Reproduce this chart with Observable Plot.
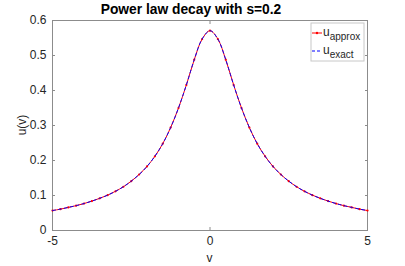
<!DOCTYPE html>
<html><head><meta charset="utf-8">
<script src="https://cdn.jsdelivr.net/npm/d3@7"></script>
<script src="https://cdn.jsdelivr.net/npm/@observablehq/plot@0.6"></script>
<style>body{margin:0;background:#fff} svg{font-family:"Liberation Sans",Arial,sans-serif}</style>
</head><body><div id="chart"></div>
<script>
const title = "Power law decay with s=0.2";
const xLabel = "v";
const yLabel = "u(v)";
const seriesNames = ["approx", "exact"];
const v = [-5,-4.75,-4.5,-4.25,-4,-3.75,-3.5,-3.25,-3,-2.75,-2.5,-2.25,-2,-1.75,-1.5,-1.25,-1,-0.75,-0.5,-0.25,0,0.25,0.5,0.75,1,1.25,1.5,1.75,2,2.25,2.5,2.75,3,3.25,3.5,3.75,4,4.25,4.5,4.75,5];
const uApprox = [0.057,0.061,0.066,0.071,0.077,0.084,0.092,0.101,0.112,0.125,0.141,0.160,0.183,0.212,0.248,0.294,0.350,0.416,0.488,0.547,0.571,0.547,0.488,0.416,0.350,0.294,0.248,0.212,0.183,0.160,0.141,0.125,0.112,0.101,0.092,0.084,0.077,0.071,0.066,0.061,0.057];
const uExact = [0.057,0.061,0.066,0.071,0.077,0.084,0.092,0.101,0.112,0.125,0.141,0.160,0.183,0.212,0.248,0.294,0.350,0.416,0.488,0.547,0.571,0.547,0.488,0.416,0.350,0.294,0.248,0.212,0.183,0.160,0.141,0.125,0.112,0.101,0.092,0.084,0.077,0.071,0.066,0.061,0.057];
const xTicks = [-5, 0, 5];
const yTicks = [0, 0.1, 0.2, 0.3, 0.4, 0.5, 0.6];

const data = v.map((d, i) => ({v: d, approx: uApprox[i], exact: uExact[i]}));
const W = 405, H = 266, mL = 52, mR = 38, mT = 20, mB = 36;
const txt = "#262626", ax = "#8c8c8c";

const plot = Plot.plot({
  width: W, height: H, marginLeft: mL, marginRight: mR, marginTop: mT, marginBottom: mB,
  style: {fontFamily: '"Liberation Sans",Arial,sans-serif', fontSize: "12px", color: txt, background: "#fff"},
  x: {domain: [-5, 5]},
  y: {domain: [0, 0.6]},
  marks: [
    Plot.frame({stroke: ax}),
    Plot.axisX({anchor: "bottom", ticks: xTicks, tickSize: -3, tickPadding: 9, tickFormat: d => String(d), label: null, stroke: ax, fill: txt}),
    Plot.axisX({anchor: "top", ticks: xTicks, tickSize: -3, tickFormat: () => "", label: null, stroke: ax}),
    Plot.axisY({anchor: "left", ticks: yTicks, tickSize: -3, tickPadding: 9, tickFormat: d => String(d), label: null, stroke: ax, fill: txt}),
    Plot.axisY({anchor: "right", ticks: yTicks, tickSize: -3, tickFormat: () => "", label: null, stroke: ax}),
    Plot.lineY(data, {x: "v", y: "approx", stroke: "#ff0000", strokeWidth: 1, curve: "catmull-rom"}),
    Plot.dot(data, {x: "v", y: "approx", r: 1.1, fill: "#ff0000"}),
    Plot.lineY(data, {x: "v", y: "exact", stroke: "#0000ff", strokeWidth: 1, strokeDasharray: "3,3", curve: "catmull-rom"})
  ]
});
document.getElementById("chart").appendChild(plot);

const svg = d3.select(plot);
const cx = mL + (W - mL - mR) / 2;
svg.append("text").attr("x", 191).attr("y", 14).attr("text-anchor", "middle")
  .attr("font-weight", "bold").attr("font-size", 13.8).attr("fill", "#000").text(title);
svg.append("text").attr("x", cx).attr("y", 262).attr("text-anchor", "middle")
  .attr("font-size", 12).attr("fill", txt).text(xLabel);
svg.append("text").attr("transform", `translate(26,${mT + (H - mT - mB) / 2}) rotate(-90)`)
  .attr("text-anchor", "middle").attr("font-size", 12).attr("fill", txt).text(yLabel);

// legend
const lg = svg.append("g");
lg.append("rect").attr("x", 311).attr("y", 23).attr("width", 53).attr("height", 38)
  .attr("fill", "#fff").attr("stroke", "#c8c8c8");
const items = [
  {name: seriesNames[0], color: "#ff0000", dash: null, y: 33},
  {name: seriesNames[1], color: "#0000ff", dash: "3,2", y: 51}
];
items.forEach(it => {
  lg.append("line").attr("x1", 312).attr("x2", 322).attr("y1", it.y).attr("y2", it.y)
    .attr("stroke", it.color).attr("stroke-width", 1).attr("stroke-dasharray", it.dash);
  if (!it.dash) lg.append("circle").attr("cx", 317).attr("cy", it.y).attr("r", 1.2).attr("fill", it.color);
  const t = lg.append("text").attr("x", 323).attr("y", it.y + 3).attr("text-anchor", "start")
    .attr("font-size", 12).attr("fill", txt);
  t.append("tspan").text("u");
  t.append("tspan").attr("font-size", 10).attr("dy", 4).text(it.name);
});
</script></body></html>
